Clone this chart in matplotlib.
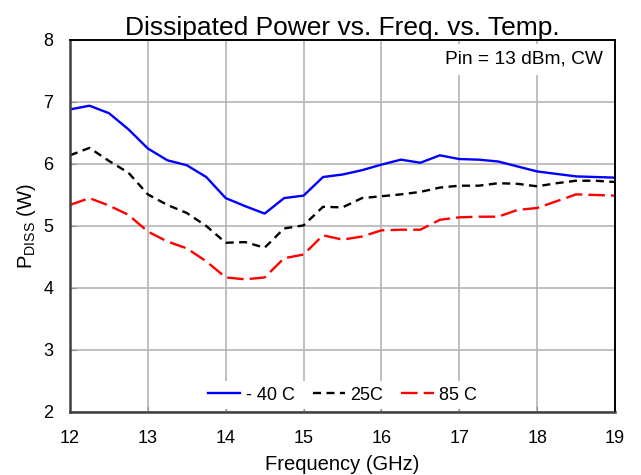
import matplotlib
matplotlib.use("Agg")
import matplotlib.pyplot as plt

plt.rcParams['font.family'] = ['Liberation Sans', 'DejaVu Sans']

freq = [12.0, 12.25, 12.5, 12.75, 13.0, 13.25, 13.5, 13.75, 14.0, 14.25, 14.5, 14.75,
        15.0, 15.25, 15.5, 15.75, 16.0, 16.25, 16.5, 16.75, 17.0, 17.25, 17.5, 17.75,
        18.0, 18.25, 18.5, 18.75, 19.0]
p_m40 = [6.88, 6.94, 6.82, 6.56, 6.25, 6.06, 5.98, 5.79, 5.45, 5.32, 5.20, 5.45,
         5.49, 5.79, 5.83, 5.90, 5.99, 6.07, 6.02, 6.14, 6.08, 6.07, 6.04, 5.96,
         5.88, 5.84, 5.80, 5.79, 5.78]
p_25 = [6.14, 6.26, 6.05, 5.86, 5.51, 5.34, 5.21, 5.00, 4.73, 4.74, 4.65, 4.96,
        5.01, 5.31, 5.30, 5.45, 5.48, 5.51, 5.55, 5.62, 5.65, 5.65, 5.69, 5.68,
        5.64, 5.69, 5.73, 5.73, 5.71]
p_85 = [5.34, 5.45, 5.33, 5.18, 4.91, 4.75, 4.64, 4.43, 4.17, 4.14, 4.17, 4.48,
        4.54, 4.85, 4.78, 4.83, 4.93, 4.94, 4.94, 5.10, 5.14, 5.15, 5.15, 5.26,
        5.29, 5.40, 5.51, 5.50, 5.49]
labels = ['- 40 C', '25C', '85 C']
xticks = [12, 13, 14, 15, 16, 17, 18, 19]
yticks = [2, 3, 4, 5, 6, 7, 8]

fig = plt.figure(figsize=(6.41, 4.75), dpi=100)
ax = fig.add_axes([70/641, 1 - 412/475, (615-70)/641, (412-40)/475])

ax.plot(freq, p_m40, color='#0000ff', lw=1.7, label=labels[0])
ax.plot(freq, p_25, color='black', lw=1.7, ls=(0, (3.4, 2.3)), label=labels[1])
ax.plot(freq, p_85, color='#ff0000', lw=1.7, ls=(0, (7, 2.6)), label=labels[2])

ax.set_xlim(12, 19)
ax.set_ylim(2, 8)
ax.set_xticks(xticks)
ax.set_yticks(yticks)
ax.grid(True, color='#b4b4b4', lw=1.2)
ax.set_axisbelow(True)
ax.tick_params(direction='in', length=4, width=0.8, color='#909090', labelsize=13)
ax.tick_params(axis='x', pad=13)
ax.tick_params(axis='y', pad=12)
for s in ['left', 'bottom']:
    ax.spines[s].set_linewidth(1.8)
    ax.spines[s].set_color('#404040')
for s in ['right', 'top']:
    ax.spines[s].set_linewidth(1.4)
    ax.spines[s].set_color('black')

ax.set_title('Dissipated Power vs. Freq. vs. Temp.', fontsize=19, pad=1.5)
ax.set_xlabel('Frequency (GHz)', fontsize=14.5, labelpad=6)
ax.set_ylabel(r'P$_{\mathregular{DISS}}$ (W)', fontsize=14.5, labelpad=4)

ax.text(0.978, 0.9355, 'Pin = 13 dBm, CW', transform=ax.transAxes, ha='right',
        va='baseline', fontsize=13.8,
        bbox=dict(facecolor='white', edgecolor='none', pad=5))

leg = ax.legend(loc='lower center', bbox_to_anchor=(0.5, -0.016), ncol=3, frameon=True,
                fontsize=13, handlelength=1.8, columnspacing=1.0, handletextpad=0.3,
                borderpad=0.3)
leg.get_frame().set_edgecolor('none')
leg.get_frame().set_facecolor('white')
leg.get_frame().set_alpha(1.0)

fig.savefig('out.png', dpi=100)
